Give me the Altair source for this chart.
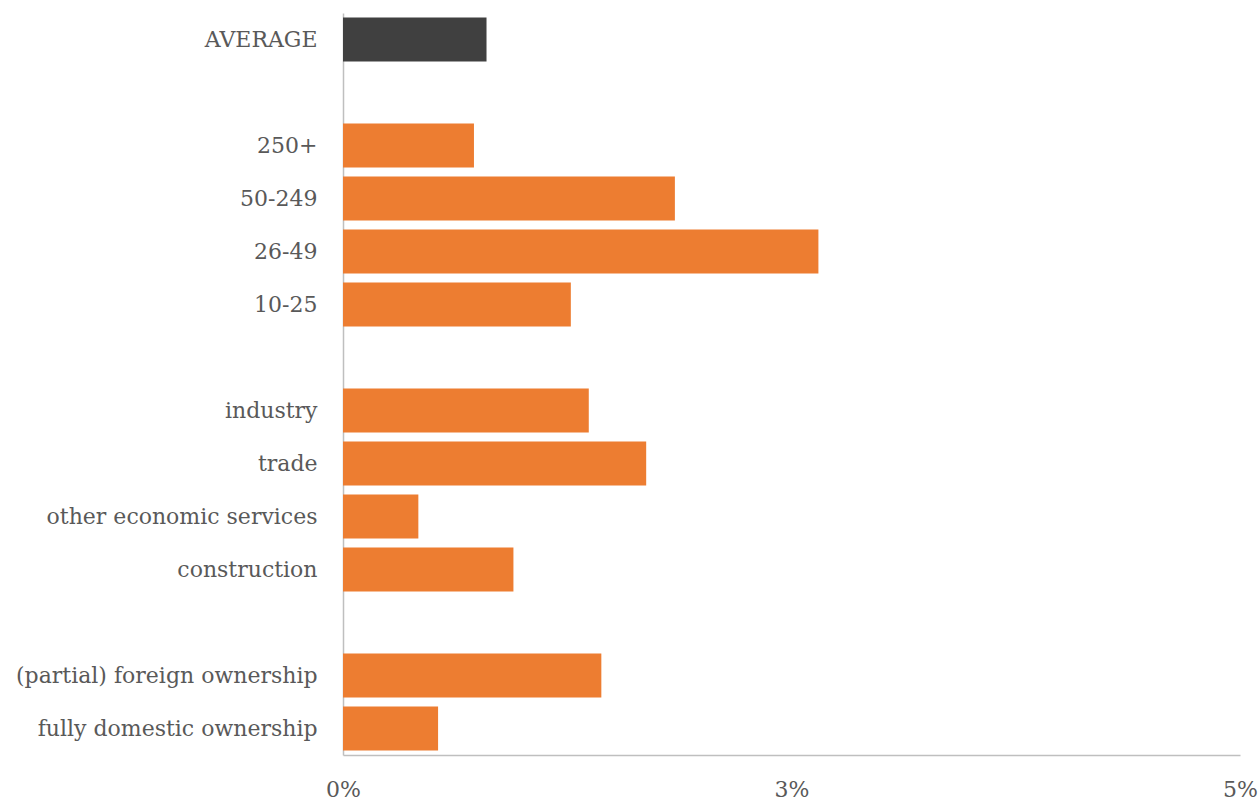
import altair as alt
import pandas as pd

categories = ["AVERAGE", " ", "250+", "50-249\u00a0", "26-49\u00a0", "10-25\u00a0", "  ",
              "industry", "trade", "other economic services", "construction", "   ",
              "(partial) foreign ownership", "fully domestic ownership"]
values = [0.0080, None, 0.0073, 0.0185, 0.0265, 0.0127, None,
          0.0137, 0.0169, 0.0042, 0.0095, None,
          0.0144, 0.0053]
groups = ["avg", "", "o", "o", "o", "o", "",
          "o", "o", "o", "o", "",
          "o", "o"]

df = pd.DataFrame({"cat": categories, "val": values, "grp": groups})

font = "DejaVu Serif"

chart = alt.Chart(df).mark_bar().encode(
    y=alt.Y("cat:N", sort=categories,
            scale=alt.Scale(paddingInner=0.17, paddingOuter=0.085),
            axis=alt.Axis(title=None, ticks=False, labelPadding=26, labelFontSize=22,
                          labelFont=font, labelColor="#595959", domainColor="#bfbfbf",
                          domainWidth=1.5, labelLimit=400)),
    x=alt.X("val:Q", scale=alt.Scale(domain=[0, 0.05], nice=False),
            axis=alt.Axis(title=None, values=[0, 0.025, 0.05], format=".0%", grid=False,
                          ticks=False, labelPadding=24, labelFontSize=22, labelFont=font,
                          labelColor="#595959", domainColor="#bfbfbf", domainWidth=1.5,
                          labelFlush=False)),
    color=alt.Color("grp:N", scale=alt.Scale(domain=["avg", "o", ""],
                                             range=["#404040", "#ED7D31", "#ffffff"]),
                    legend=None),
).properties(
    width=897, height=742,
    autosize=alt.AutoSizeParams(type="none"),
    padding={"left": 343, "top": 13, "right": 20, "bottom": 48},
).configure_view(stroke=None)

chart.save("out.html", embed_options={"renderer": "svg", "actions": False})
